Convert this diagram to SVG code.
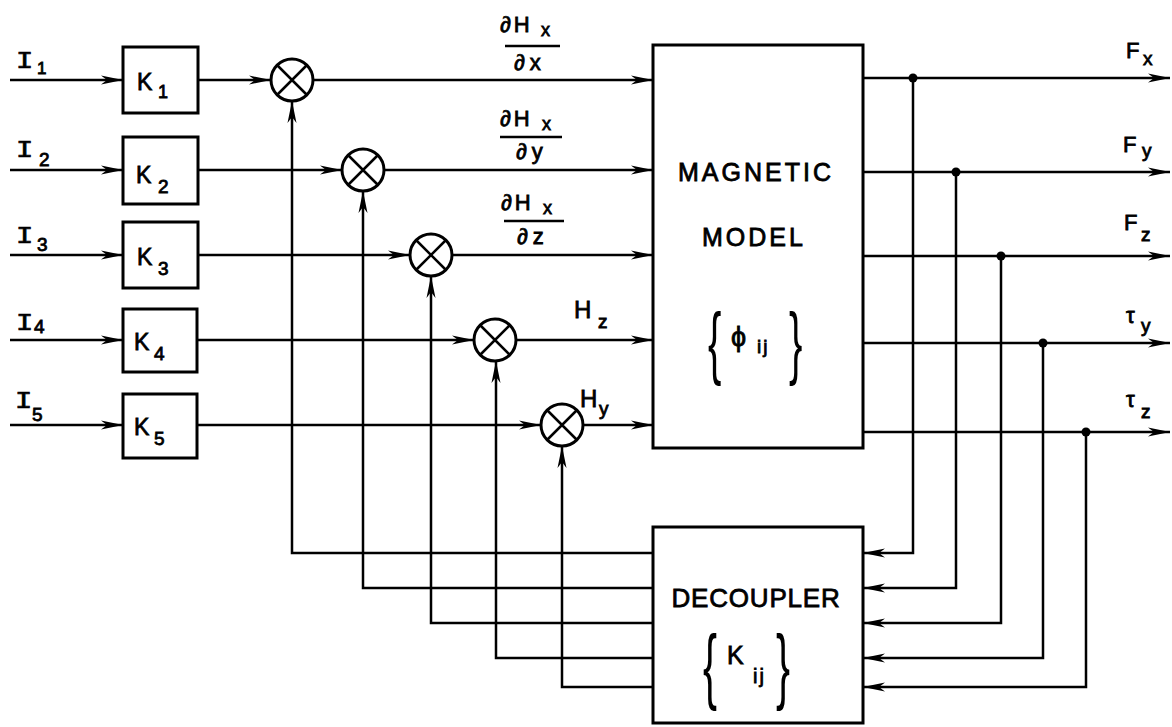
<svg xmlns="http://www.w3.org/2000/svg" width="1172" height="727" viewBox="0 0 1172 727">
<defs>
<style>
.ln{fill:none;stroke:#000;stroke-width:2.5}
.bx{fill:#fff;stroke:#000;stroke-width:3}
.t{font-family:"Liberation Sans","DejaVu Sans",sans-serif;fill:#000;stroke:#000;stroke-width:0.8}
.m{font-family:"Liberation Mono","DejaVu Sans Mono",monospace;fill:#000;stroke:#000;stroke-width:0.7}
.br{font-family:"Liberation Sans","DejaVu Sans",sans-serif;fill:#000}
.dot{fill:#000}
</style>
<marker id="arr" viewBox="0 0 22 10" refX="22" refY="5" markerWidth="22" markerHeight="10" markerUnits="userSpaceOnUse" orient="auto">
<path d="M0,0.5 L22,5 L0,9.5 L6,5 z" fill="#000"/>
</marker>
</defs>
<rect width="1172" height="727" fill="#fff"/>

<g id="connectors">
<path class="ln" marker-end="url(#arr)" d="M10,80 H123"/>
<path class="ln" marker-end="url(#arr)" d="M10,170 H123"/>
<path class="ln" marker-end="url(#arr)" d="M10,255 H123"/>
<path class="ln" marker-end="url(#arr)" d="M10,340 H123"/>
<path class="ln" marker-end="url(#arr)" d="M10,425 H123"/>
<path class="ln" marker-end="url(#arr)" d="M198,80 H271"/>
<path class="ln" marker-end="url(#arr)" d="M198,170 H342"/>
<path class="ln" marker-end="url(#arr)" d="M198,255 H410"/>
<path class="ln" marker-end="url(#arr)" d="M198,340 H474"/>
<path class="ln" marker-end="url(#arr)" d="M198,425 H541"/>
<path class="ln" marker-end="url(#arr)" d="M313,80 H653"/>
<path class="ln" marker-end="url(#arr)" d="M384,170 H653"/>
<path class="ln" marker-end="url(#arr)" d="M452,255 H653"/>
<path class="ln" marker-end="url(#arr)" d="M516,340 H653"/>
<path class="ln" marker-end="url(#arr)" d="M583,425 H653"/>
<path class="ln" marker-end="url(#arr)" d="M653,553 H292 V101"/>
<path class="ln" marker-end="url(#arr)" d="M653,588 H363 V191"/>
<path class="ln" marker-end="url(#arr)" d="M653,623 H431 V276"/>
<path class="ln" marker-end="url(#arr)" d="M653,658 H496 V361"/>
<path class="ln" marker-end="url(#arr)" d="M653,687 H562 V446"/>
<path class="ln" marker-end="url(#arr)" d="M863,78 H1170"/>
<path class="ln" marker-end="url(#arr)" d="M863,172 H1170"/>
<path class="ln" marker-end="url(#arr)" d="M863,256 H1170"/>
<path class="ln" marker-end="url(#arr)" d="M863,343 H1170"/>
<path class="ln" marker-end="url(#arr)" d="M863,432 H1170"/>
<path class="ln" marker-end="url(#arr)" d="M913,78 V553 H863"/>
<path class="ln" marker-end="url(#arr)" d="M956,172 V588 H863"/>
<path class="ln" marker-end="url(#arr)" d="M1001,256 V623 H863"/>
<path class="ln" marker-end="url(#arr)" d="M1043,343 V658 H863"/>
<path class="ln" marker-end="url(#arr)" d="M1086,432 V687 H863"/>
<circle class="dot" cx="913" cy="78" r="4.5"/>
<circle class="dot" cx="956" cy="172" r="4.5"/>
<circle class="dot" cx="1001" cy="256" r="4.5"/>
<circle class="dot" cx="1043" cy="343" r="4.5"/>
<circle class="dot" cx="1086" cy="432" r="4.5"/>
</g>

<g id="labels">
<text class="m" font-size="24" transform="translate(16,68) scale(1.2,1)">I</text><text class="t" x="37" y="74" font-size="17">1</text>
<text class="m" font-size="24" transform="translate(16,157) scale(1.2,1)">I</text><text class="t" x="39" y="166" font-size="19">2</text>
<text class="m" font-size="24" transform="translate(16,243) scale(1.2,1)">I</text><text class="t" x="37" y="251" font-size="19">3</text>
<text class="m" font-size="24" transform="translate(16,330) scale(1.2,1)">I</text><text class="t" x="34" y="333" font-size="19">4</text>
<text class="m" font-size="24" transform="translate(15,408) scale(1.2,1)">I</text><text class="t" x="32" y="421" font-size="19">5</text>

<text class="t" x="500" y="32" font-size="22" letter-spacing="3">∂H</text><text class="t" x="541" y="36" font-size="18">x</text>
<line class="ln" x1="505" y1="46" x2="560" y2="46"/>
<text class="t" x="514" y="70" font-size="22" letter-spacing="5">∂x</text>

<text class="t" x="500" y="126" font-size="22" letter-spacing="3">∂H</text><text class="t" x="542" y="130" font-size="18">x</text>
<line class="ln" x1="500" y1="137" x2="562" y2="137"/>
<text class="t" x="516" y="159" font-size="22" letter-spacing="5">∂y</text>

<text class="t" x="501" y="210" font-size="22" letter-spacing="3">∂H</text><text class="t" x="543" y="214" font-size="18">x</text>
<line class="ln" x1="504" y1="221" x2="564" y2="221"/>
<text class="t" x="517" y="244" font-size="22" letter-spacing="5">∂z</text>

<text class="t" x="574" y="318" font-size="24">H</text><text class="t" x="598" y="328" font-size="19">z</text>
<text class="t" x="580" y="407" font-size="24">H</text><text class="t" x="599" y="415" font-size="19">y</text>

<text class="t" x="1126" y="58" font-size="22">F</text><text class="t" x="1143" y="65" font-size="19">x</text>
<text class="t" x="1123" y="152" font-size="22">F</text><text class="t" x="1142" y="157" font-size="19">y</text>
<text class="t" x="1124" y="230" font-size="22">F</text><text class="t" x="1141" y="241" font-size="19">z</text>
<text class="t" x="1126" y="323" font-size="22">τ</text><text class="t" x="1141" y="332" font-size="19">y</text>
<text class="t" x="1126" y="407" font-size="22">τ</text><text class="t" x="1141" y="418" font-size="19">z</text>
</g>

<g id="K1"><rect class="bx" x="123" y="47" width="75" height="66"/><text class="t" x="137" y="90" font-size="23">K</text><text class="t" x="158" y="98" font-size="18">1</text></g>
<g id="K2"><rect class="bx" x="123" y="137" width="75" height="67"/><text class="t" x="136" y="183" font-size="23">K</text><text class="t" x="158" y="193" font-size="19">2</text></g>
<g id="K3"><rect class="bx" x="123" y="222" width="75" height="66"/><text class="t" x="137" y="265" font-size="23">K</text><text class="t" x="158" y="275" font-size="19">3</text></g>
<g id="K4"><rect class="bx" x="123" y="309" width="74" height="63"/><text class="t" x="134" y="350" font-size="23">K</text><text class="t" x="154" y="360" font-size="19">4</text></g>
<g id="K5"><rect class="bx" x="123" y="394" width="74" height="64"/><text class="t" x="134" y="435" font-size="23">K</text><text class="t" x="154" y="445" font-size="19">5</text></g>

<g id="M1"><circle class="bx" cx="292" cy="80" r="21" stroke-width="2.5"/><path class="ln" d="M277,65 L307,95 M307,65 L277,95"/></g>
<g id="M2"><circle class="bx" cx="363" cy="170" r="21" stroke-width="2.5"/><path class="ln" d="M348,155 L378,185 M378,155 L348,185"/></g>
<g id="M3"><circle class="bx" cx="431" cy="255" r="21" stroke-width="2.5"/><path class="ln" d="M416,240 L446,270 M446,240 L416,270"/></g>
<g id="M4"><circle class="bx" cx="495" cy="340" r="21" stroke-width="2.5"/><path class="ln" d="M480,325 L510,355 M510,325 L480,355"/></g>
<g id="M5"><circle class="bx" cx="562" cy="425" r="21" stroke-width="2.5"/><path class="ln" d="M547,410 L577,440 M577,410 L547,440"/></g>

<g id="magnetic-model">
<rect class="bx" x="653" y="45" width="210" height="403"/>
<text class="t" x="756" y="181" font-size="25" text-anchor="middle" letter-spacing="3">MAGNETIC</text>
<text class="t" x="754" y="246" font-size="25" text-anchor="middle" letter-spacing="3">MODEL</text>
<text class="br" x="0" y="0" font-size="40" transform="translate(708,369) scale(1,2)">{</text>
<text class="t" x="731" y="346" font-size="27">ϕ</text><text class="t" x="757" y="353" font-size="19" letter-spacing="2">ij</text>
<text class="br" x="0" y="0" font-size="40" transform="translate(789,369) scale(1,2)">}</text>
</g>

<g id="decoupler">
<rect class="bx" x="653" y="527" width="210" height="196"/>
<text class="t" x="756" y="607" font-size="26" text-anchor="middle" letter-spacing="0.8">DECOUPLER</text>
<text class="br" x="0" y="0" font-size="42" transform="translate(703,694) scale(1,2)">{</text>
<text class="t" x="727" y="664" font-size="25">K</text><text class="t" x="753" y="683" font-size="20" letter-spacing="2">ij</text>
<text class="br" x="0" y="0" font-size="42" transform="translate(776,694) scale(1,2)">}</text>
</g>
</svg>
